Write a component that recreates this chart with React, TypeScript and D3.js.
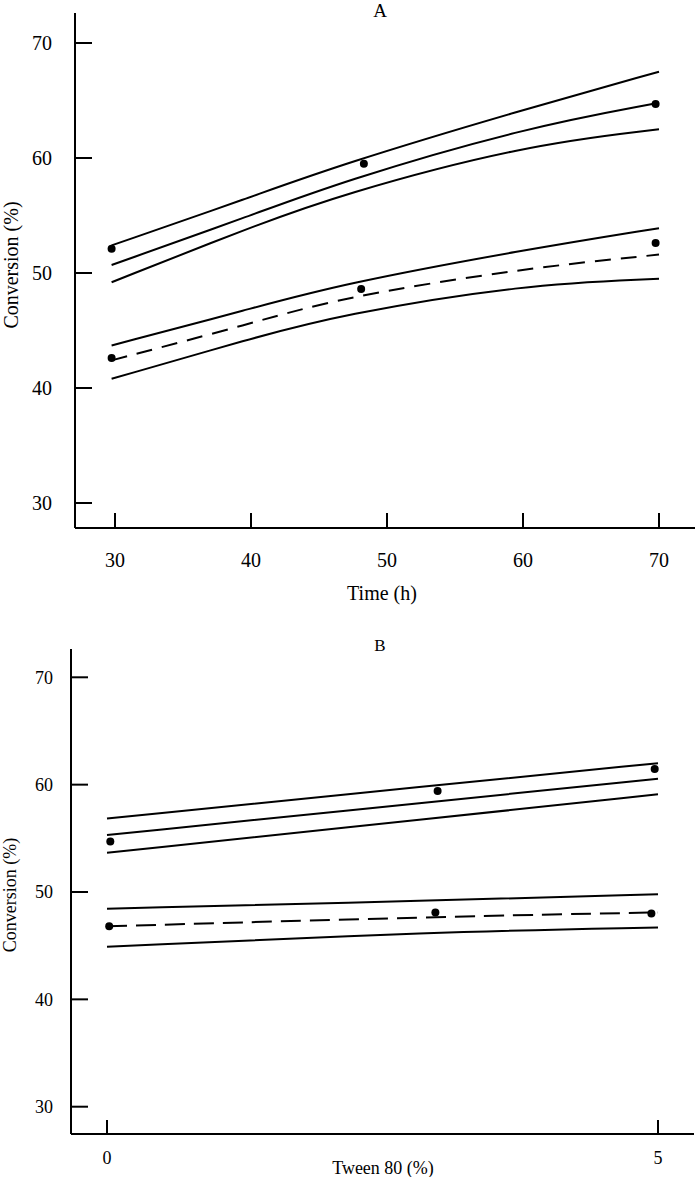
import React from "react";
import * as d3 from "d3";

// ---------- Panel A data (Time, h) ----------
const timeTicks = [30, 40, 50, 60, 70];
const convTicks = [30, 40, 50, 60, 70];
const timeGrid = [29.75, 40, 46.5, 60, 70];
const aHighUpper = [52.4, 56.6, 59.4, 64.2, 67.5];
const aHighFit = [50.7, 55.0, 57.9, 62.6, 64.8];
const aHighLower = [49.2, 54.0, 56.8, 61.1, 62.5];
const aLowUpper = [43.7, 46.9, 49.0, 52.0, 53.9];
const aLowFit = [42.4, 45.6, 47.85, 50.4, 51.6];
const aLowLower = [40.8, 44.3, 46.35, 49.0, 49.5];
const aHighPtsX = [29.75, 48.3, 69.75];
const aHighPtsY = [52.1, 59.5, 64.7];
const aLowPtsX = [29.75, 48.1, 69.75];
const aLowPtsY = [42.6, 48.6, 52.6];

// ---------- Panel B data (Tween 80, %) ----------
const tweenTicks = [0, 5];
const tweenGrid = [0, 3, 5];
const bHighUpper = [56.85, 59.95, 62.0];
const bHighFit = [55.3, 58.45, 60.55];
const bHighLower = [53.65, 56.9, 59.1];
const bLowUpper = [48.45, 49.2, 49.8];
const bLowFit = [46.8, 47.7, 48.1];
const bLowLower = [44.9, 46.3, 46.7];
const bHighPtsX = [0.03, 3.0, 4.97];
const bHighPtsY = [54.7, 59.4, 61.45];
const bLowPtsX = [0.02, 2.98, 4.94];
const bLowPtsY = [46.8, 48.1, 48.0];

const FONT = "'Liberation Serif', 'Times New Roman', serif";

type PanelProps = {
  title: string;
  titleX: number;
  titleY: number;
  titleSize: number;
  xDomain: [number, number];
  xRange: [number, number];
  yRange: [number, number];
  axisX: number;
  axisTop: number;
  axisY: number;
  axisRight: number;
  xTicks: number[];
  xTickLen: number;
  yTickLen: number;
  tickFont: number;
  xLabelY: number;
  xTitle: string;
  xTitleX: number;
  xTitleY: number;
  xTitleSize: number;
  yTitleX: number;
  yTitleY: number;
  yTitleSize: number;
  grid: number[];
  solid: number[][];
  dashed: number[][];
  dash: string;
  ptsX: number[][];
  ptsY: number[][];
  yLabelRight: number;
};

function Panel(p: PanelProps) {
  const x = d3.scaleLinear().domain(p.xDomain).range(p.xRange);
  const y = d3.scaleLinear().domain([30, 70]).range(p.yRange);
  const line = d3
    .line<[number, number]>()
    .x((d) => x(d[0]))
    .y((d) => y(d[1]))
    .curve(d3.curveBasis);
  const mk = (vals: number[]) =>
    line(p.grid.map((g, i) => [g, vals[i]] as [number, number])) || "";
  return (
    <g>
      <text
        x={p.titleX}
        y={p.titleY}
        fontFamily={FONT}
        fontSize={p.titleSize}
        textAnchor="middle"
      >
        {p.title}
      </text>
      {/* axes */}
      <line x1={p.axisX} x2={p.axisX} y1={p.axisTop} y2={p.axisY} stroke="#000" strokeWidth={2} />
      <line x1={p.axisX} x2={p.axisRight} y1={p.axisY} y2={p.axisY} stroke="#000" strokeWidth={2} />
      {convTicks.map((t) => (
        <g key={"y" + t}>
          <line
            x1={p.axisX}
            x2={p.axisX + p.yTickLen}
            y1={y(t)}
            y2={y(t)}
            stroke="#000"
            strokeWidth={2}
          />
          <text
            x={p.yLabelRight}
            y={y(t)}
            dy="0.35em"
            textAnchor="end"
            fontFamily={FONT}
            fontSize={p.tickFont}
          >
            {t}
          </text>
        </g>
      ))}
      {p.xTicks.map((t) => (
        <g key={"x" + t}>
          <line
            x1={x(t)}
            x2={x(t)}
            y1={p.axisY}
            y2={p.axisY - p.xTickLen}
            stroke="#000"
            strokeWidth={2}
          />
          <text
            x={x(t)}
            y={p.xLabelY}
            textAnchor="middle"
            fontFamily={FONT}
            fontSize={p.tickFont}
          >
            {t}
          </text>
        </g>
      ))}
      <text
        x={p.xTitleX}
        y={p.xTitleY}
        textAnchor="middle"
        fontFamily={FONT}
        fontSize={p.xTitleSize}
      >
        {p.xTitle}
      </text>
      <text
        transform={`translate(${p.yTitleX},${p.yTitleY}) rotate(-90)`}
        textAnchor="middle"
        fontFamily={FONT}
        fontSize={p.yTitleSize}
      >
        Conversion (%)
      </text>
      {/* curves */}
      {p.solid.map((s, i) => (
        <path key={"s" + i} d={mk(s)} fill="none" stroke="#000" strokeWidth={2} />
      ))}
      {p.dashed.map((s, i) => (
        <path
          key={"d" + i}
          d={mk(s)}
          fill="none"
          stroke="#000"
          strokeWidth={2}
          strokeDasharray={p.dash}
        />
      ))}
      {p.ptsX.map((xs, gi) =>
        xs.map((xv, i) => (
          <circle key={"p" + gi + "-" + i} cx={x(xv)} cy={y(p.ptsY[gi][i])} r={4} fill="#000" />
        ))
      )}
    </g>
  );
}

export default function App() {
  return (
    <svg
      width={696}
      height={1177}
      style={{ position: "absolute", left: 0, top: 0, background: "#fff" }}
    >
      <rect x={0} y={0} width={696} height={1177} fill="#fff" />
      <Panel
        title="A"
        titleX={380}
        titleY={17}
        titleSize={19}
        xDomain={[30, 70]}
        xRange={[115, 659]}
        yRange={[503, 43]}
        axisX={75}
        axisTop={13}
        axisY={528}
        axisRight={695}
        xTicks={timeTicks}
        xTickLen={15}
        yTickLen={17}
        tickFont={20}
        xLabelY={567}
        xTitle="Time (h)"
        xTitleX={382}
        xTitleY={600}
        xTitleSize={20}
        yTitleX={18}
        yTitleY={265}
        yTitleSize={20}
        grid={timeGrid}
        solid={[aHighUpper, aHighFit, aHighLower, aLowUpper, aLowLower]}
        dashed={[aLowFit]}
        dash="16,10"
        ptsX={[aHighPtsX, aLowPtsX]}
        ptsY={[aHighPtsY, aLowPtsY]}
        yLabelRight={52}
      />
      <Panel
        title="B"
        titleX={380}
        titleY={651}
        titleSize={17}
        xDomain={[0, 5]}
        xRange={[107, 658]}
        yRange={[1106.7, 677.3]}
        axisX={71}
        axisTop={649}
        axisY={1134}
        axisRight={694}
        xTicks={tweenTicks}
        xTickLen={14}
        yTickLen={17}
        tickFont={18}
        xLabelY={1164}
        xTitle="Tween 80 (%)"
        xTitleX={383}
        xTitleY={1174}
        xTitleSize={18}
        yTitleX={16}
        yTitleY={895}
        yTitleSize={18}
        grid={tweenGrid}
        solid={[bHighUpper, bHighFit, bHighLower, bLowUpper, bLowLower]}
        dashed={[bLowFit]}
        dash="20,9"
        ptsX={[bHighPtsX, bLowPtsX]}
        ptsY={[bHighPtsY, bLowPtsY]}
        yLabelRight={53}
      />
    </svg>
  );
}
